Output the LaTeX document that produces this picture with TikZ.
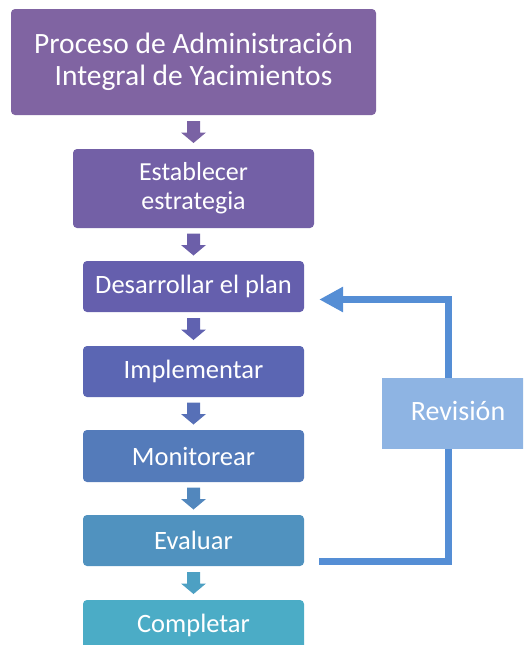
\documentclass[tikz,border=0pt]{standalone}
\usepackage{fontspec}
\setmainfont{Carlito}
\usetikzlibrary{arrows.meta,calc}
\definecolor{c1}{HTML}{8064A2}
\definecolor{c2}{HTML}{7360A6}
\definecolor{c3}{HTML}{655FAD}
\definecolor{c4}{HTML}{5B66B3}
\definecolor{c5}{HTML}{547BBA}
\definecolor{c6}{HTML}{5092BF}
\definecolor{c7}{HTML}{4BACC6}
\definecolor{a1}{HTML}{7A62A4}
\definecolor{a2}{HTML}{6C5FA9}
\definecolor{a3}{HTML}{6062B0}
\definecolor{a4}{HTML}{5770B7}
\definecolor{a5}{HTML}{5287BD}
\definecolor{a6}{HTML}{4DA0C3}
\definecolor{revfill}{HTML}{8EB4E3}
\definecolor{connblue}{HTML}{558ED5}
\tikzset{
  stepbox/.style={rounded corners=4pt, text=white, align=center, inner sep=0pt},
  stepfont/.style={font=\fontsize{26.5}{30}\selectfont},
  revbox/.style={fill=revfill, text=white, inner sep=0pt, minimum width=152pt, minimum height=71pt, font=\fontsize{28}{32}\selectfont},
  conn/.style={draw=connblue, line width=7pt},
}
\newcommand{\dnarrow}[2]{%
  \fill[#1, shift={(#2)}] (-6.5,-11) -- (6.5,-11) -- (6.5,0.5) -- (12.5,0.5) -- (0,11) -- (-12.5,0.5) -- (-6.5,0.5) -- cycle;}
\begin{document}
\begin{tikzpicture}[x=1pt,y=-1pt]
\useasboundingbox (0,0) rectangle (523,645);
\clip (0,0) rectangle (523,645);
\node[stepbox, fill=c1, minimum width=365pt, minimum height=106pt, font=\fontsize{29.5}{32}\selectfont] (top) at (193.5,62) {Proceso de Administración\\Integral de Yacimientos};
\node[stepbox, fill=c2, minimum width=241pt, minimum height=79pt, font=\fontsize{26}{29}\selectfont] (est) at (193.5,188.5) {Establecer\\estrategia};
\node[stepbox, fill=c3, minimum width=221pt, minimum height=51pt, stepfont] (des) at (193.5,286.5) {Desarrollar el plan};
\node[stepbox, fill=c4, minimum width=221pt, minimum height=51pt, stepfont] (imp) at (193.5,371.5) {Implementar};
\node[stepbox, fill=c5, minimum width=221pt, minimum height=52pt, stepfont] (mon) at (193.5,456) {Monitorear};
\node[stepbox, fill=c6, minimum width=221pt, minimum height=51pt, stepfont] (eva) at (193.5,540.5) {Evaluar};
\node[stepbox, fill=c7, minimum width=221pt, minimum height=51pt, stepfont] (com) at (193.5,625.5) {Completar};
\node[revbox] (rev) at (458,413.5) {\raisebox{5pt}{Revisión}};
\dnarrow{a1}{$(top.south)!0.5!(est.north)$}
\dnarrow{a2}{$(est.south)!0.5!(des.north)$}
\dnarrow{a3}{$(des.south)!0.5!(imp.north)$}
\dnarrow{a4}{$(imp.south)!0.5!(mon.north)$}
\dnarrow{a5}{$(mon.south)!0.5!(eva.north)$}
\dnarrow{a6}{$(eva.south)!0.5!(com.north)$}
\coordinate (vx) at (448,0);
\coordinate (e1) at ([xshift=15pt,yshift=-21pt]eva.east);
\coordinate (d1) at ([xshift=15pt,yshift=-13pt]des.east);
\draw[conn] (e1) -| (rev.south -| vx);
\draw[conn, -{Triangle[length=24pt,width=24pt]}] (rev.north -| vx) |- (d1);
\end{tikzpicture}
\end{document}
